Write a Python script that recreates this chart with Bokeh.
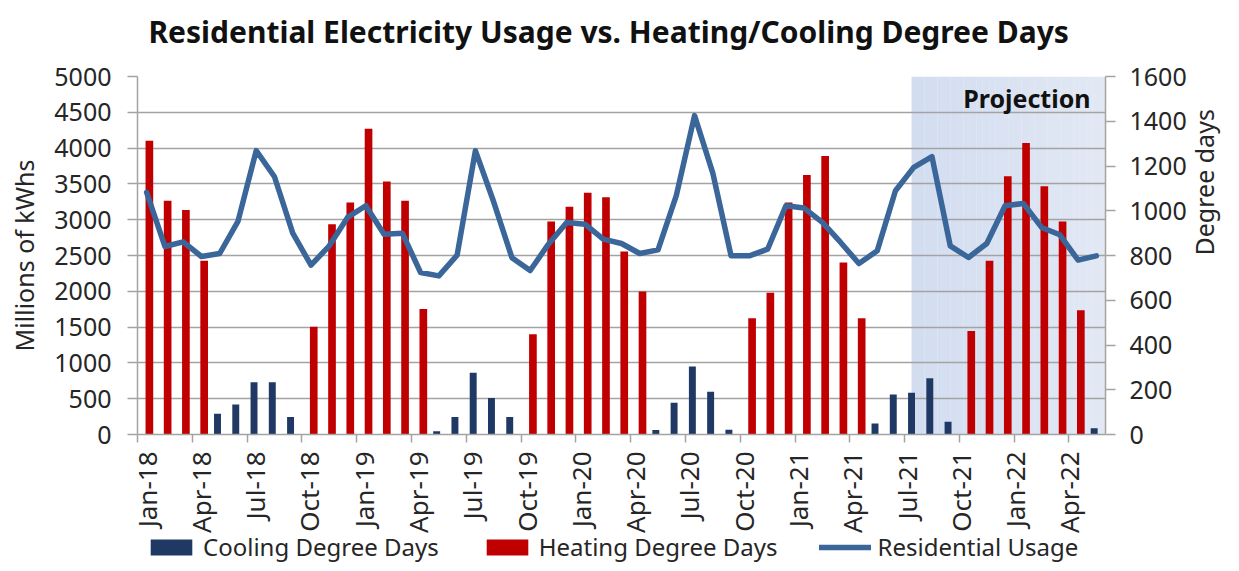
import math
from bokeh.plotting import figure
from bokeh.layouts import column
from bokeh.models import (Range1d, LinearAxis, FixedTicker, ColumnDataSource,
                          Legend, LegendItem, Label)
from bokeh.transform import dodge
from bokeh.core.properties import value
from bokeh.embed import file_html
from bokeh.resources import INLINE

months = ["Jan-18", "Feb-18", "Mar-18", "Apr-18", "May-18", "Jun-18", "Jul-18", "Aug-18", "Sep-18", "Oct-18", "Nov-18", "Dec-18",
          "Jan-19", "Feb-19", "Mar-19", "Apr-19", "May-19", "Jun-19", "Jul-19", "Aug-19", "Sep-19", "Oct-19", "Nov-19", "Dec-19",
          "Jan-20", "Feb-20", "Mar-20", "Apr-20", "May-20", "Jun-20", "Jul-20", "Aug-20", "Sep-20", "Oct-20", "Nov-20", "Dec-20",
          "Jan-21", "Feb-21", "Mar-21", "Apr-21", "May-21", "Jun-21", "Jul-21", "Aug-21", "Sep-21", "Oct-21", "Nov-21", "Dec-21",
          "Jan-22", "Feb-22", "Mar-22", "Apr-22", "May-22"]

cooling_dd = [0, 0, 0, 0, 93, 134, 234, 234, 78, 0, 0, 0,
              0, 0, 0, 0, 15, 78, 276, 163, 78, 0, 0, 0,
              0, 0, 0, 0, 20, 142, 304, 191, 21, 0, 0, 0,
              0, 0, 0, 0, 49, 179, 187, 251, 57, 0, 0, 0,
              0, 0, 0, 0, 28]

heating_dd = [1313, 1045, 1003, 776, 0, 0, 0, 0, 0, 482, 940, 1037,
              1366, 1131, 1045, 561, 0, 0, 0, 0, 0, 448, 952, 1018,
              1081, 1060, 818, 639, 0, 0, 0, 0, 0, 519, 634, 1037,
              1160, 1245, 769, 519, 0, 0, 0, 0, 0, 463, 776, 1154,
              1303, 1110, 952, 555, 0]

usage = [3381, 2626, 2691, 2486, 2528, 2976, 3964, 3600, 2812, 2365, 2635, 3032,
         3195, 2798, 2812, 2262, 2215, 2505, 3964, 3250, 2470, 2290, 2658, 2962,
         2938, 2728, 2668, 2528, 2579, 3335, 4454, 3650, 2495, 2495, 2588, 3195,
         3162, 2962, 2682, 2388, 2565, 3405, 3731, 3880, 2635, 2472, 2668, 3195,
         3227, 2892, 2789, 2435, 2495]

tick_labels = ["Jan-18", "Apr-18", "Jul-18", "Oct-18", "Jan-19", "Apr-19", "Jul-19", "Oct-19",
               "Jan-20", "Apr-20", "Jul-20", "Oct-20", "Jan-21", "Apr-21", "Jul-21", "Oct-21",
               "Jan-22", "Apr-22"]

usage_ticks = list(range(0, 5001, 500))
dd_ticks = list(range(0, 1601, 200))
projection_start = "Jul-21"
title_text = "Residential Electricity Usage vs. Heating/Cooling Degree Days"

FONT = "Noto Sans"
GRID = "#a3a3a3"
TEXT = "#262626"
RED = "#c00000"
NAVY = "#1f3864"
LINE = "#3a6699"

# layout geometry (pixels)
FW, FH = 968, 358
BL, BR = 137, 126
TOTAL_W = BL + FW + BR
TITLE_H = 58
TOP_PAD = 18
TICK_H = 8
BOTTOM_PAD = 16
BOTTOM_H = 563 - TITLE_H - TOP_PAD - FH - BOTTOM_PAD

n = len(months)
xs = list(range(n))
src = ColumnDataSource(dict(x=xs, month=months, cdd=cooling_dd, hdd=heating_dd, usage=usage))
xr = Range1d(-0.5, n - 0.5)
px_per_cat = FW / n

# ---------------- title strip ----------------
t = figure(width=TOTAL_W, height=TITLE_H, x_range=xr, y_range=Range1d(0, TITLE_H),
           output_backend="svg", toolbar_location=None, x_axis_location=None, y_axis_location=None,
           min_border=0, min_border_left=BL, min_border_right=BR, min_border_top=0, min_border_bottom=0,
           background_fill_color="white", border_fill_color="white")
t.outline_line_color = None
t.xgrid.visible = False
t.ygrid.visible = False
t.text(x=[-0.5 + 11 / px_per_cat], y=[TITLE_H - 31], text=[title_text], text_align="left",
       text_baseline="middle", text_font=value(FONT), text_font_size="30px",
       text_font_style="bold", text_color="#111111")

# ---------------- main chart ----------------
p = figure(frame_width=FW, frame_height=FH, x_range=xr, y_range=Range1d(0, 5000),
           output_backend="svg", toolbar_location=None,
           min_border_left=BL, min_border_right=BR, min_border_top=TOP_PAD,
           min_border_bottom=BOTTOM_PAD,
           background_fill_color="white", border_fill_color="white")
p.extra_y_ranges = {"dd": Range1d(0, 1600)}
p.outline_line_color = None

# projection shading (gradient made of strips)
x0 = months.index(projection_start) - 0.12
x1 = n - 0.5
N = 30
c0 = (210, 221, 240)
c1 = (226, 232, 244)
lefts, rights, cols = [], [], []
for k in range(N):
    a = x0 + (x1 - x0) * k / N
    b = x0 + (x1 - x0) * (k + 1) / N
    tt = k / (N - 1)
    c = tuple(int(round(c0[j] + (c1[j] - c0[j]) * tt)) for j in range(3))
    lefts.append(a)
    rights.append(min(b + 0.01, x1))
    cols.append("#%02x%02x%02x" % c)
p.quad(left=lefts, right=rights, bottom=0, top=5000, fill_color=cols, line_color=None, level="image")

p.xgrid.visible = False
p.ygrid.grid_line_color = GRID
p.ygrid.grid_line_width = 1.5

ya = p.yaxis[0]
ya.ticker = FixedTicker(ticks=usage_ticks)
ya.axis_label = "Millions of kWhs"
ya.axis_label_text_font = FONT
ya.axis_label_text_font_size = "25px"
ya.axis_label_text_font_style = "normal"
ya.axis_label_text_color = TEXT
ya.axis_label_standoff = 10
ya.major_label_text_font = FONT
ya.major_label_text_font_size = "25px"
ya.major_label_text_color = TEXT
ya.major_label_standoff = 16
ya.axis_line_color = GRID
ya.axis_line_width = 1.5
ya.major_tick_line_color = GRID
ya.major_tick_line_width = 1.5
ya.major_tick_out = 10
ya.major_tick_in = 0
ya.minor_tick_line_color = None

ra = LinearAxis(y_range_name="dd", ticker=FixedTicker(ticks=dd_ticks), axis_label="Degree days")
ra.axis_label_text_font = FONT
ra.axis_label_text_font_size = "25px"
ra.axis_label_text_font_style = "normal"
ra.axis_label_text_color = TEXT
ra.axis_label_standoff = 14
ra.major_label_text_font = FONT
ra.major_label_text_font_size = "25px"
ra.major_label_text_color = TEXT
ra.major_label_standoff = 14
ra.axis_line_color = GRID
ra.axis_line_width = 1.5
ra.major_tick_line_color = GRID
ra.major_tick_line_width = 1.5
ra.major_tick_out = 10
ra.major_tick_in = 0
ra.minor_tick_line_color = None
if hasattr(ra, "axis_label_orientation"):
    ra.axis_label_orientation = math.pi / 2
p.add_layout(ra, "right")

xa = p.xaxis[0]
tick_pos = [months.index(s) for s in tick_labels]
xa.ticker = FixedTicker(ticks=[], minor_ticks=[s - 0.5 for s in tick_pos])
xa.major_tick_out = TICK_H
xa.major_tick_in = 0
xa.major_tick_line_color = None
xa.major_label_standoff = 0
xa.minor_tick_line_color = GRID
xa.minor_tick_line_width = 1.5
xa.minor_tick_out = TICK_H
xa.minor_tick_in = 0
xa.axis_line_color = GRID
xa.axis_line_width = 1.5

rc = p.vbar(x=dodge("x", -0.12), top="cdd", width=0.38, source=src, y_range_name="dd",
            fill_color=NAVY, line_color=None)
rh = p.vbar(x=dodge("x", 0.15), top="hdd", width=0.42, source=src, y_range_name="dd",
            fill_color=RED, line_color=None)
rl = p.line(x="x", y="usage", source=src, line_color=LINE, line_width=5.5,
            line_join="round", line_cap="round")

p.add_layout(Label(x=n - 1.32, y=4700, text="Projection", text_align="right", text_baseline="middle",
                   text_font=FONT, text_font_size="25px", text_font_style="bold",
                   text_color="#111111"))

# ---------------- lower strip: quarter labels + legend ----------------
q = figure(width=TOTAL_W, height=BOTTOM_H, x_range=xr, y_range=Range1d(0, BOTTOM_H),
           output_backend="svg", toolbar_location=None, x_axis_location=None, y_axis_location=None,
           min_border=0, min_border_left=BL, min_border_right=BR, min_border_top=0, min_border_bottom=0,
           background_fill_color="white", border_fill_color="white")
q.outline_line_color = None
q.xgrid.visible = False
q.ygrid.visible = False
lab_src = ColumnDataSource(dict(x=tick_pos, text=tick_labels))
q.text(x="x", y=BOTTOM_H - 1, text="text", source=lab_src, angle=math.pi / 2,
       text_align="right", text_baseline="middle", text_font=value(FONT),
       text_font_size="26px", text_color=TEXT)

# legend swatch renderers (a zero-height point; only their styles are shown)
sw = ColumnDataSource(dict(x=[0], top=[0], y=[0]))
gc = q.vbar(x="x", top="top", width=0.4, source=sw, fill_color=NAVY, line_color=None)
gh = q.vbar(x="x", top="top", width=0.4, source=sw, fill_color=RED, line_color=None)
gl = q.line(x="x", y="y", source=sw, line_color=LINE, line_width=5.5, line_cap="round")

legend = Legend(items=[LegendItem(label="Cooling Degree Days", renderers=[gc]),
                       LegendItem(label="Heating Degree Days", renderers=[gh]),
                       LegendItem(label="Residential Usage", renderers=[gl])],
                orientation="horizontal", location=(8, 0), padding=0, margin=0,
                spacing=42, glyph_width=52, glyph_height=20, label_standoff=6,
                label_height=24, border_line_color=None, background_fill_alpha=0,
                label_text_font=FONT, label_text_font_size="24px", label_text_color=TEXT)
q.add_layout(legend)

layout = column(t, p, q, spacing=0)
open("out.html", "w").write(file_html(layout, INLINE))
